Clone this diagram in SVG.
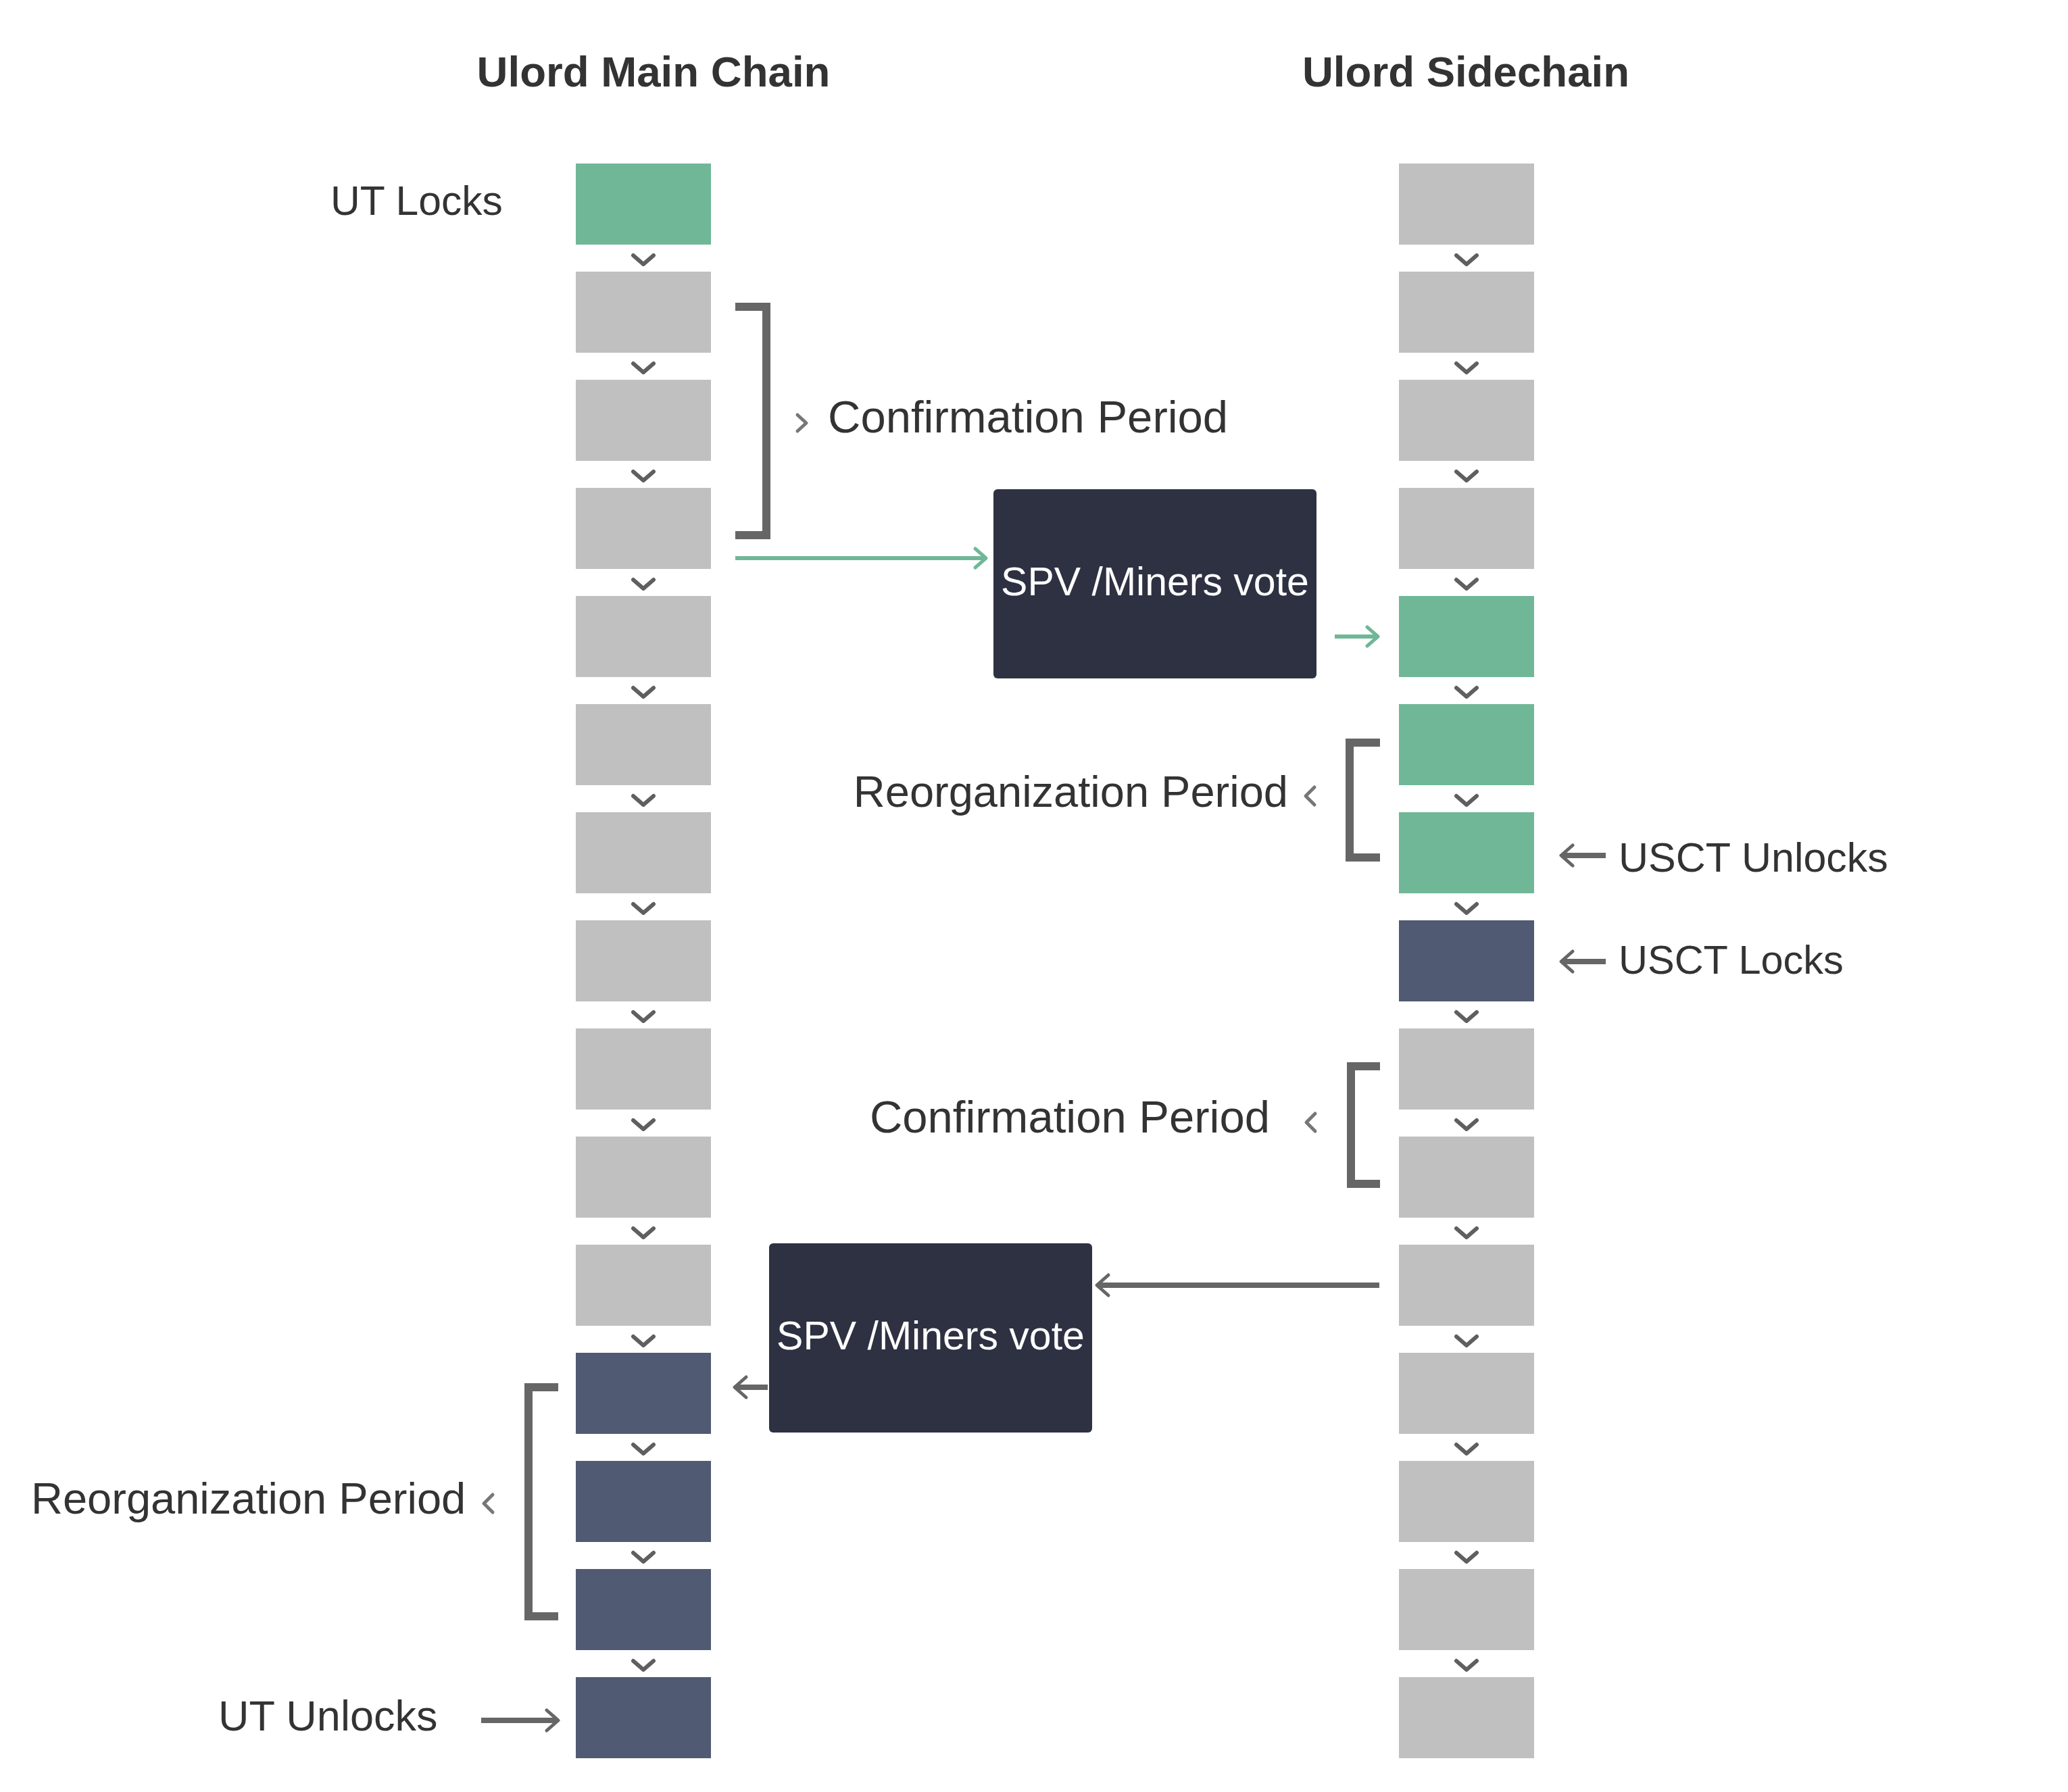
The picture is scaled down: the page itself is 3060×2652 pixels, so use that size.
<svg xmlns="http://www.w3.org/2000/svg" width="3060" height="2652" viewBox="0 0 3060 2652">
<style>
.g{fill:#c0c0c0}.gr{fill:#70b798}.nv{fill:#515a73}
.box{fill:#2d3142}
.t{font-family:"Liberation Sans",Arial,sans-serif;fill:#333333}
.tb{font-family:"Liberation Sans",Arial,sans-serif;fill:#333333;font-weight:bold;font-size:63.6px}
.tw{font-family:"Liberation Sans",Arial,sans-serif;fill:#ffffff;font-size:59px}
.chev{fill:none;stroke:#5f5f5f;stroke-width:6;stroke-linecap:round;stroke-linejoin:round}
.sch{fill:none;stroke:#777777;stroke-width:5;stroke-linecap:round;stroke-linejoin:round}
.br{fill:none;stroke:#666666;stroke-width:12;stroke-linejoin:miter}
.ga{fill:none;stroke:#666666;stroke-width:8}
.gn{fill:none;stroke:#70b798;stroke-width:6}
</style>
<defs>
<marker id="ah" markerUnits="userSpaceOnUse" viewBox="-20 -20 30 40" markerWidth="30" markerHeight="40" refX="0" refY="0" orient="auto">
<path d="M-14,-15 L3,0 L-14,15" fill="none" stroke="#666666" stroke-width="5" stroke-linecap="round" stroke-linejoin="round"/>
</marker>
<marker id="ahg" markerUnits="userSpaceOnUse" viewBox="-20 -20 30 40" markerWidth="30" markerHeight="40" refX="0" refY="0" orient="auto">
<path d="M-13,-14 L3,0 L-13,14" fill="none" stroke="#70b798" stroke-width="5" stroke-linecap="round" stroke-linejoin="round"/>
</marker>
</defs>
<rect width="3060" height="2652" fill="#ffffff"/>

<text class="tb" x="967" y="128" text-anchor="middle">Ulord Main Chain</text>
<text class="tb" x="2169" y="128" text-anchor="middle">Ulord Sidechain</text>

<g id="main-chain">
<g id="m0"><rect class="gr" x="852" y="242" width="200" height="120"/></g>
<g id="m1"><rect class="g" x="852" y="402" width="200" height="120"/></g>
<g id="m2"><rect class="g" x="852" y="562" width="200" height="120"/></g>
<g id="m3"><rect class="g" x="852" y="722" width="200" height="120"/></g>
<g id="m4"><rect class="g" x="852" y="882" width="200" height="120"/></g>
<g id="m5"><rect class="g" x="852" y="1042" width="200" height="120"/></g>
<g id="m6"><rect class="g" x="852" y="1202" width="200" height="120"/></g>
<g id="m7"><rect class="g" x="852" y="1362" width="200" height="120"/></g>
<g id="m8"><rect class="g" x="852" y="1522" width="200" height="120"/></g>
<g id="m9"><rect class="g" x="852" y="1682" width="200" height="120"/></g>
<g id="m10"><rect class="g" x="852" y="1842" width="200" height="120"/></g>
<g id="m11"><rect class="nv" x="852" y="2002" width="200" height="120"/></g>
<g id="m12"><rect class="nv" x="852" y="2162" width="200" height="120"/></g>
<g id="m13"><rect class="nv" x="852" y="2322" width="200" height="120"/></g>
<g id="m14"><rect class="nv" x="852" y="2482" width="200" height="120"/></g>
</g>

<g id="side-chain">
<g id="s0"><rect class="g" x="2070" y="242" width="200" height="120"/></g>
<g id="s1"><rect class="g" x="2070" y="402" width="200" height="120"/></g>
<g id="s2"><rect class="g" x="2070" y="562" width="200" height="120"/></g>
<g id="s3"><rect class="g" x="2070" y="722" width="200" height="120"/></g>
<g id="s4"><rect class="gr" x="2070" y="882" width="200" height="120"/></g>
<g id="s5"><rect class="gr" x="2070" y="1042" width="200" height="120"/></g>
<g id="s6"><rect class="gr" x="2070" y="1202" width="200" height="120"/></g>
<g id="s7"><rect class="nv" x="2070" y="1362" width="200" height="120"/></g>
<g id="s8"><rect class="g" x="2070" y="1522" width="200" height="120"/></g>
<g id="s9"><rect class="g" x="2070" y="1682" width="200" height="120"/></g>
<g id="s10"><rect class="g" x="2070" y="1842" width="200" height="120"/></g>
<g id="s11"><rect class="g" x="2070" y="2002" width="200" height="120"/></g>
<g id="s12"><rect class="g" x="2070" y="2162" width="200" height="120"/></g>
<g id="s13"><rect class="g" x="2070" y="2322" width="200" height="120"/></g>
<g id="s14"><rect class="g" x="2070" y="2482" width="200" height="120"/></g>
</g>

<g id="spv1"><rect class="box" x="1470" y="724" width="478" height="280" rx="6"/><text class="tw" x="1709" y="881" text-anchor="middle">SPV /Miners vote</text></g>
<g id="spv2"><rect class="box" x="1138" y="1840" width="478" height="280" rx="6"/><text class="tw" x="1377" y="1997" text-anchor="middle">SPV /Miners vote</text></g>

<g id="brackets">
<path class="br" d="M1088,454 H1134 V792 H1088"/>
<path class="br" d="M2042,1099 H1997 V1269 H2042"/>
<path class="br" d="M2042,1578 H1999 V1752 H2042"/>
<path class="br" d="M826,2053 H782 V2392 H826"/>
</g>

<g id="labels">
<text class="t" x="489" y="318" font-size="60.6">UT Locks</text>
<path class="sch" d="M1180,614 L1193,626 L1180,638"/>
<text class="t" x="1225" y="640" font-size="67">Confirmation Period</text>
<text class="t" x="1906" y="1194" font-size="65" text-anchor="end">Reorganization Period</text>
<path class="sch" d="M1945,1165 L1932,1178 L1945,1191"/>
<text class="t" x="2395" y="1290" font-size="61">USCT Unlocks</text>
<text class="t" x="2395" y="1441" font-size="59.5">USCT Locks</text>
<text class="t" x="1879" y="1676" font-size="67" text-anchor="end">Confirmation Period</text>
<path class="sch" d="M1946,1648 L1933,1661 L1946,1674"/>
<text class="t" x="46" y="2240" font-size="65">Reorganization Period</text>
<path class="sch" d="M729,2212 L716,2225 L729,2238"/>
<text class="t" x="323" y="2561" font-size="63">UT Unlocks</text>
</g>

<g id="connectors">
<path class="chev" d="M937,378 L952,391 L967,378 M937,538 L952,551 L967,538 M937,698 L952,711 L967,698 M937,858 L952,871 L967,858 M937,1018 L952,1031 L967,1018 M937,1178 L952,1191 L967,1178 M937,1338 L952,1351 L967,1338 M937,1498 L952,1511 L967,1498 M937,1658 L952,1671 L967,1658 M937,1818 L952,1831 L967,1818 M937,1978 L952,1991 L967,1978 M937,2138 L952,2151 L967,2138 M937,2298 L952,2311 L967,2298 M937,2458 L952,2471 L967,2458"/>
<path class="chev" d="M2155,378 L2170,391 L2185,378 M2155,538 L2170,551 L2185,538 M2155,698 L2170,711 L2185,698 M2155,858 L2170,871 L2185,858 M2155,1018 L2170,1031 L2185,1018 M2155,1178 L2170,1191 L2185,1178 M2155,1338 L2170,1351 L2185,1338 M2155,1498 L2170,1511 L2185,1498 M2155,1658 L2170,1671 L2185,1658 M2155,1818 L2170,1831 L2185,1818 M2155,1978 L2170,1991 L2185,1978 M2155,2138 L2170,2151 L2185,2138 M2155,2298 L2170,2311 L2185,2298 M2155,2458 L2170,2471 L2185,2458"/>
<line class="gn" x1="1088" y1="826" x2="1456" y2="826" marker-end="url(#ahg)"/>
<line class="gn" x1="1975" y1="942" x2="2036" y2="942" marker-end="url(#ahg)"/>
<line class="ga" x1="2041" y1="1902" x2="1626" y2="1902" marker-end="url(#ah)"/>
<line class="ga" x1="1136" y1="2053" x2="1090" y2="2053" marker-end="url(#ah)"/>
<line class="ga" x1="2376" y1="1266" x2="2313" y2="1266" marker-end="url(#ah)"/>
<line class="ga" x1="2376" y1="1423" x2="2313" y2="1423" marker-end="url(#ah)"/>
<line class="ga" x1="712" y1="2546" x2="823" y2="2546" marker-end="url(#ah)"/>
</g>
</svg>
